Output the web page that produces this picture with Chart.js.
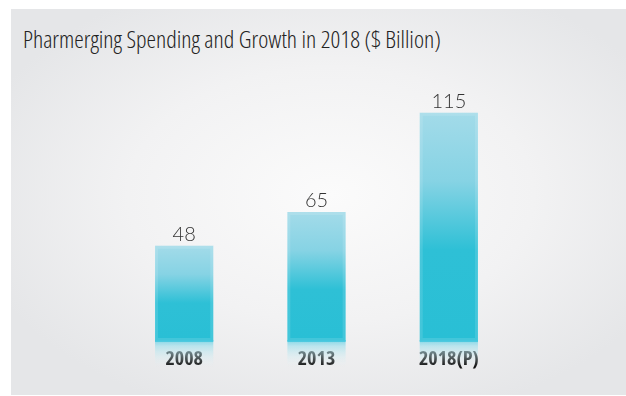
<!DOCTYPE html>
<html>
<head>
<meta charset="utf-8">
<script src="https://cdn.jsdelivr.net/npm/chart.js@4.4.1/dist/chart.umd.min.js"></script>
<style>
  html, body { margin: 0; padding: 0; background: #fff; }
  #wrap { position: relative; width: 626px; height: 396px; overflow: hidden; }
  #panel {
    position: absolute; left: 11px; top: 9px; width: 615px; height: 386px;
    background: radial-gradient(ellipse 60% 60% at 52% 48%, #fbfbfb 0%, #f2f2f3 55%, #e5e6e8 100%);
  }
  #title {
    position: absolute; left: 23px; top: 22px;
    font-family: "Open Sans", sans-serif; font-weight: 300; font-size: 24px;
    font-stretch: condensed; color: #222; white-space: nowrap;
  }
  #chart { position: absolute; left: 0; top: 0; }
</style>
</head>
<body>
<div id="wrap">
  <div id="panel"></div>
  <div id="title">Pharmerging Spending and Growth in 2018 ($ Billion)</div>
  <canvas id="chart" width="626" height="396"></canvas>
</div>
<script>
// Spending by year, $ billion
const years = ['2008', '2013', '2018(P)'];
const spending = [48, 65, 115];

// Per-bar vertical gradient: pale cyan at the top, saturated toward the base
function barGradient(ctx) {
  const chart = ctx.chart;
  const y = chart.scales.y;
  if (!chart.chartArea || !y || ctx.raw === undefined) return '#2bc0d6';
  const top = y.getPixelForValue(ctx.raw);
  const base = y.getPixelForValue(0);
  const g = chart.ctx.createLinearGradient(0, top, 0, base);
  g.addColorStop(0, '#a3dbe9');
  g.addColorStop(0.3, '#86d3e4');
  g.addColorStop(0.6, '#2ec0d6');
  g.addColorStop(1, '#29bfd5');
  return g;
}

// Bevel highlight, reflection under the base and the value above each bar
const barDecor = {
  id: 'barDecor',
  afterDatasetsDraw(chart) {
    const c = chart.ctx;
    const meta = chart.getDatasetMeta(0);
    c.save();
    meta.data.forEach((bar, i) => {
      const half = bar.width / 2;
      const left = bar.x - half;
      const top = bar.y, base = bar.base;

      // soft inner edge
      c.strokeStyle = 'rgba(255,255,255,0.12)';
      c.lineWidth = 3;
      c.strokeRect(left + 1.5, top + 1.5, bar.width - 3, base - top - 3);

      // reflection band below the base
      const r = c.createLinearGradient(0, base, 0, base + 26);
      r.addColorStop(0, 'rgba(120,212,230,0.85)');
      r.addColorStop(0.2, 'rgba(170,225,236,0.75)');
      r.addColorStop(1, 'rgba(235,246,249,0)');
      c.fillStyle = r;
      c.fillRect(left, base, bar.width, 26);
      c.fillStyle = 'rgba(70,198,222,0.9)';
      c.fillRect(left, base - 1, bar.width, 2);

      // value label
      c.fillStyle = '#333';
      c.font = '300 20px Lato, sans-serif';
      c.textAlign = 'center';
      c.textBaseline = 'bottom';
      c.fillText(String(spending[i]), bar.x, top - 1);
    });
    c.restore();
  }
};

new Chart(document.getElementById('chart'), {
  type: 'bar',
  data: {
    labels: years,
    datasets: [{
      data: spending,
      backgroundColor: barGradient,
      borderWidth: 0,
      categoryPercentage: 1,
      barPercentage: 0.44
    }]
  },
  options: {
    responsive: false,
    animation: false,
    layout: { padding: { left: 118, right: 111, top: 83, bottom: 19 } },
    plugins: { legend: { display: false }, tooltip: { enabled: false }, title: { display: false } },
    scales: {
      x: {
        z: 1,
        grid: { display: false, drawTicks: false },
        border: { display: false },
        ticks: {
          color: '#111',
          padding: 6,
          font: { family: '"Open Sans", sans-serif', weight: 'bold condensed', size: 20 }
        }
      },
      y: { display: false, min: 0, max: 130 }
    }
  },
  plugins: [barDecor]
});
</script>
</body>
</html>
